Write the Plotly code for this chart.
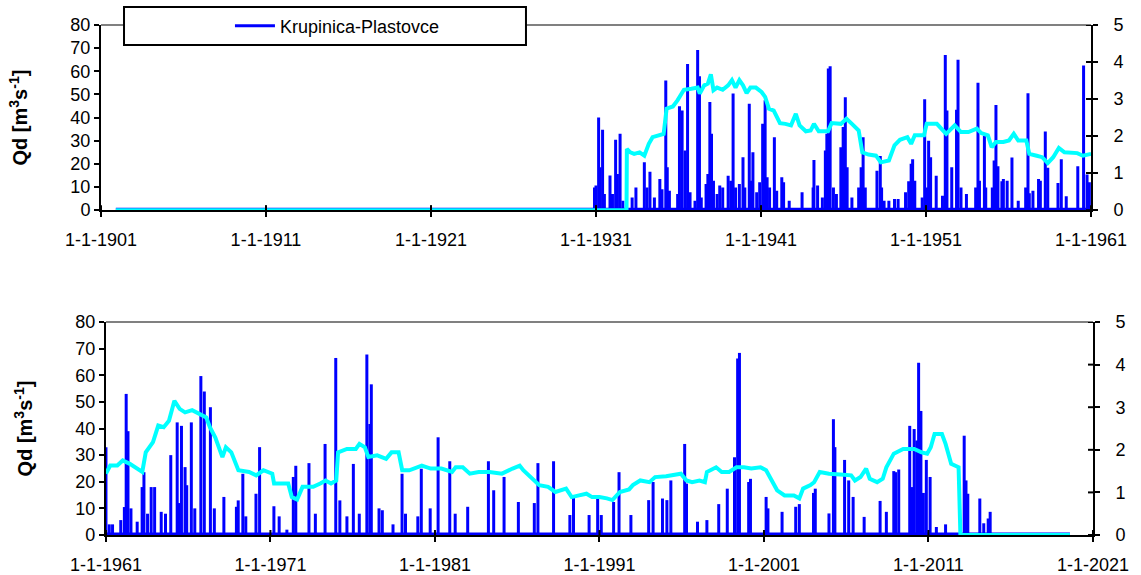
import datetime as dt
import plotly.graph_objects as go
from plotly.subplots import make_subplots

# daily discharge peaks (decimal year, m3/s)
q_top_year = [1930.91, 1931.0, 1931.16, 1931.25, 1931.4, 1931.51, 1931.85, 1932.0, 1932.19, 1932.3,
              1932.46, 1932.63, 1933.19, 1933.42, 1933.93, 1934.09, 1934.27, 1934.54, 1934.87, 1935.0,
              1935.23, 1935.32, 1935.45, 1935.95, 1936.06, 1936.22, 1936.4, 1936.55, 1936.7, 1937.0,
              1937.16, 1937.27, 1937.38, 1937.67, 1937.78, 1937.9, 1938.0, 1938.12, 1938.34, 1938.5,
              1938.68, 1939.01, 1939.17, 1939.31, 1939.46, 1939.69, 1939.91, 1940.02, 1940.29, 1940.4,
              1940.51, 1940.74, 1940.92, 1941.1, 1941.25, 1941.37, 1941.52, 1941.81, 1941.95, 1942.26,
              1942.37, 1942.71, 1943.49, 1944.16, 1944.21, 1944.43, 1944.72, 1944.9, 1944.99, 1945.08,
              1945.19, 1945.39, 1945.57, 1945.84, 1945.98, 1946.11, 1946.22, 1946.51, 1946.92, 1947.07,
              1947.19, 1947.32, 1948.03, 1948.23, 1948.31, 1948.46, 1948.75, 1949.09, 1949.31, 1949.76,
              1949.95, 1950.1, 1950.19, 1950.32, 1950.77, 1950.92, 1951.06, 1951.16, 1951.28, 1951.62,
              1952.0, 1952.17, 1952.27, 1952.56, 1952.85, 1952.94, 1953.12, 1953.45, 1954.01, 1954.15,
              1954.24, 1954.54, 1954.62, 1955.02, 1955.13, 1955.24, 1955.36, 1955.6, 1955.69, 1955.92,
              1956.21, 1956.59, 1957.04, 1957.18, 1957.26, 1957.48, 1957.82, 1957.93, 1958.23, 1958.38,
              1959.0, 1959.2, 1959.5, 1960.2, 1960.55, 1960.76, 1960.9]
q_top_val = [9.8, 10.6, 40.0, 18.5, 34.7, 7.0, 15.0, 7.0, 30.4, 15.6,
             33.0, 4.0, 5.5, 9.8, 20.7, 9.8, 16.6, 5.5, 13.5, 9.0,
             56.0, 18.5, 8.4, 7.0, 44.9, 43.1, 25.8, 63.1, 7.7, 4.0,
             69.2, 57.9, 5.5, 11.3, 15.6, 46.7, 33.0, 12.7, 7.0, 10.6,
             9.8, 14.9, 12.7, 50.4, 9.8, 11.3, 22.9, 9.8, 46.0, 12.7,
             25.0, 7.7, 12.0, 37.3, 47.5, 14.2, 9.8, 31.5, 8.4, 14.2,
             12.0, 4.0, 7.7, 9.8, 21.7, 10.6, 5.5, 25.8, 33.0, 61.2,
             62.2, 9.8, 7.0, 27.2, 35.9, 48.8, 18.5, 5.5, 9.8, 18.5,
             31.5, 9.8, 17.0, 23.4, 9.8, 4.0, 4.0, 4.8, 4.8, 7.7,
             12.5, 20.0, 22.0, 12.7, 5.5, 47.9, 9.8, 30.0, 22.9, 14.9,
             6.2, 67.0, 43.0, 18.5, 43.4, 65.0, 9.8, 7.0, 9.8, 55.0,
             12.7, 32.0, 9.8, 9.8, 21.4, 45.4, 19.0, 12.5, 13.5, 12.7,
             22.7, 4.0, 9.8, 50.5, 7.3, 8.4, 13.5, 12.7, 34.0, 18.3,
             11.7, 22.0, 6.0, 19.0, 62.5, 15.4, 12.0]

q_bot_year = [1961.0, 1961.2, 1961.4, 1961.9, 1962.12, 1962.23, 1962.34, 1962.52, 1962.9, 1963.2,
              1963.31, 1963.53, 1963.75, 1963.96, 1964.36, 1964.62, 1964.94, 1965.33, 1965.41, 1965.59,
              1965.81, 1965.91, 1966.19, 1966.4, 1966.77, 1966.98, 1967.35, 1967.59, 1968.17, 1968.93,
              1969.04, 1969.32, 1969.5, 1970.12, 1970.34, 1971.21, 1971.53, 1972.0, 1972.39, 1972.54,
              1973.34, 1973.73, 1974.32, 1974.97, 1975.22, 1975.65, 1976.04, 1976.4, 1976.86, 1977.04,
              1977.13, 1977.6, 1977.8, 1978.45, 1979.0, 1979.21, 1979.96, 1980.17, 1980.71, 1981.19,
              1981.9, 1982.23, 1982.99, 1984.25, 1984.57, 1985.2, 1986.07, 1987.04, 1987.26, 1988.21,
              1989.2, 1989.42, 1990.37, 1990.89, 1991.11, 1991.86, 1992.19, 1992.91, 1993.99, 1994.26,
              1994.83, 1995.1, 1995.34, 1996.18, 1996.29, 1996.96, 1997.53, 1998.25, 1998.77, 1999.21,
              1999.4, 1999.51, 2000.07, 2000.18, 2001.13, 2001.24, 2002.1, 2002.93, 2003.15, 2004.01,
              2004.12, 2004.95, 2005.22, 2005.31, 2005.9, 2006.15, 2006.42, 2007.09, 2008.06, 2008.44,
              2008.89, 2009.0, 2009.19, 2009.86, 2010.02, 2010.13, 2010.29, 2010.4, 2010.54, 2010.69,
              2010.87, 2011.1, 2011.48, 2012.04, 2013.17, 2013.28, 2013.39, 2014.12, 2014.36, 2014.63,
              2014.75]
q_bot_val = [33.0, 4.0, 4.0, 5.6, 10.5, 53.0, 39.0, 10.0, 5.0, 18.0,
             23.6, 8.0, 18.0, 18.0, 8.7, 8.0, 30.0, 42.3, 12.0, 41.0,
             25.5, 18.7, 42.3, 10.0, 59.7, 53.9, 48.0, 10.0, 14.3, 10.6,
             13.0, 23.0, 7.0, 15.5, 33.0, 10.8, 7.0, 2.0, 21.8, 26.0,
             27.0, 8.0, 34.2, 66.5, 13.0, 7.0, 26.7, 8.0, 67.8, 41.7,
             56.6, 10.0, 9.3, 4.0, 23.0, 8.0, 7.0, 24.9, 10.0, 36.7,
             27.7, 8.0, 10.6, 27.7, 16.8, 21.8, 12.4, 12.0, 27.0, 27.7,
             7.5, 14.3, 7.5, 13.7, 7.5, 12.4, 23.6, 7.5, 13.1, 19.9,
             13.7, 13.1, 20.5, 34.2, 19.3, 5.0, 5.6, 11.6, 17.4, 29.2,
             66.3, 68.4, 19.9, 21.1, 14.3, 10.0, 8.7, 10.6, 11.6, 15.8,
             17.4, 8.1, 43.5, 33.0, 28.2, 20.5, 14.3, 6.8, 12.8, 8.7,
             24.0, 23.6, 24.6, 41.0, 18.0, 39.8, 35.5, 64.7, 46.6, 15.8,
             28.2, 21.8, 3.0, 4.0, 37.3, 20.5, 15.5, 13.7, 4.4, 6.2,
             8.7]

# period covered by the discharge record on each panel
q_top_span = [1901.9, 1961.0]
q_bot_span = [1961.0, 2019.6]

# moving mean (right axis)
m_top_year = [1901.9, 1932.85, 1932.87, 1933.08, 1933.31, 1933.64, 1933.93, 1934.2, 1934.43, 1934.76,
              1935.1, 1935.28, 1935.66, 1935.95, 1936.1, 1936.33, 1936.78, 1937.16, 1937.29, 1937.56,
              1937.78, 1937.96, 1938.12, 1938.34, 1938.68, 1939.01, 1939.24, 1939.46, 1939.69, 1939.91,
              1940.13, 1940.36, 1940.69, 1941.03, 1941.25, 1941.48, 1941.77, 1942.15, 1942.48, 1942.82,
              1943.11, 1943.34, 1943.72, 1944.01, 1944.21, 1944.5, 1945.06, 1945.28, 1945.84, 1946.18,
              1946.51, 1946.92, 1947.14, 1947.52, 1947.97, 1948.26, 1948.75, 1949.09, 1949.42, 1949.87,
              1950.1, 1950.32, 1950.88, 1951.04, 1951.66, 1952.22, 1952.74, 1953.12, 1953.57, 1954.08,
              1954.35, 1954.75, 1954.98, 1955.24, 1955.69, 1956.03, 1956.32, 1956.59, 1957.08, 1957.26,
              1957.71, 1958.04, 1958.38, 1958.71, 1959.05, 1959.39, 1960.17, 1960.51, 1961.0]
m_top_val = [0, 0, 1.65, 1.56, 1.52, 1.56, 1.47, 1.79, 1.97, 2.02,
             2.06, 2.74, 2.8, 2.97, 3.1, 3.25, 3.28, 3.31, 3.15, 3.37,
             3.42, 3.67, 3.24, 3.31, 3.25, 3.37, 3.51, 3.31, 3.51, 3.37,
             3.16, 3.31, 3.31, 3.19, 3.06, 2.74, 2.69, 2.35, 2.33, 2.29,
             2.6, 2.29, 2.13, 2.15, 2.33, 2.13, 2.13, 2.35, 2.33, 2.47,
             2.33, 2.15, 1.56, 1.5, 1.47, 1.29, 1.34, 1.75, 1.9, 1.97,
             1.79, 2.02, 2.02, 2.33, 2.33, 2.06, 2.29, 2.11, 2.11, 2.2,
             2.08, 2.02, 1.7, 1.84, 1.84, 1.88, 2.06, 1.88, 1.88, 1.52,
             1.47, 1.43, 1.27, 1.43, 1.68, 1.56, 1.54, 1.47, 1.52]

m_bot_year = [1961.0, 1961.26, 1961.69, 1962.02, 1962.45, 1962.77, 1963.21, 1963.42, 1963.86, 1964.18,
              1964.51, 1964.83, 1965.16, 1965.48, 1965.81, 1966.24, 1966.67, 1967.1, 1967.32, 1967.65,
              1968.08, 1968.29, 1968.62, 1969.05, 1969.7, 1970.13, 1970.57, 1971.11, 1971.22, 1972.08,
              1972.3, 1972.62, 1972.95, 1973.6, 1974.03, 1974.35, 1974.68, 1975.0, 1975.11, 1975.65,
              1976.19, 1976.41, 1976.74, 1976.95, 1977.49, 1978.03, 1978.36, 1978.79, 1979.01, 1979.44,
              1980.2, 1980.74, 1981.39, 1982.04, 1982.26, 1982.69, 1983.12, 1983.66, 1984.31, 1985.07,
              1985.72, 1986.15, 1986.37, 1987.02, 1987.34, 1987.88, 1988.32, 1988.97, 1989.31, 1989.76,
              1990.21, 1990.55, 1991.0, 1991.45, 1991.79, 1992.24, 1992.8, 1993.03, 1993.48, 1994.04,
              1994.38, 1995.05, 1995.5, 1995.95, 1996.29, 1996.63, 1997.08, 1997.41, 1997.53, 1998.09,
              1998.43, 1998.88, 1999.33, 1999.78, 2000.23, 2000.79, 2001.13, 2001.47, 2001.8, 2002.25,
              2002.82, 2003.15, 2003.38, 2003.83, 2004.05, 2004.39, 2004.95, 2005.63, 2006.3, 2006.53,
              2006.87, 2007.21, 2007.43, 2007.88, 2008.22, 2008.44, 2008.89, 2009.46, 2010.13, 2010.58,
              2010.92, 2011.14, 2011.37, 2011.82, 2012.04, 2012.38, 2012.83, 2012.94, 2019.6]
m_bot_val = [1.44, 1.63, 1.63, 1.75, 1.67, 1.59, 1.48, 1.94, 2.18, 2.57,
             2.53, 2.68, 3.15, 2.96, 2.88, 2.93, 2.84, 2.76, 2.53, 2.29,
             1.83, 2.06, 1.94, 1.52, 1.48, 1.4, 1.52, 1.44, 1.21, 1.21,
             0.89, 0.83, 1.13, 1.13, 1.21, 1.28, 1.21, 1.28, 1.94, 2.02,
             2.02, 2.14, 2.06, 1.83, 1.87, 1.79, 1.94, 1.94, 1.52, 1.52,
             1.63, 1.56, 1.56, 1.48, 1.59, 1.59, 1.44, 1.48, 1.48, 1.44,
             1.56, 1.63, 1.52, 1.28, 1.17, 1.13, 1.01, 1.09, 0.89, 0.93,
             0.97, 0.89, 0.89, 0.86, 0.82, 1.01, 1.07, 1.17, 1.28, 1.24,
             1.36, 1.38, 1.4, 1.44, 1.28, 1.24, 1.28, 1.24, 1.48, 1.59,
             1.48, 1.48, 1.59, 1.59, 1.56, 1.59, 1.52, 1.28, 1.05, 0.93,
             0.93, 0.86, 1.09, 1.17, 1.24, 1.48, 1.44, 1.42, 1.4, 1.28,
             1.36, 1.56, 1.32, 1.24, 1.32, 1.59, 1.91, 2.02, 2.02, 1.94,
             1.91, 2.06, 2.37, 2.37, 2.14, 1.67, 1.59, 0, 0]

top_ticks = ["1-1-1901", "1-1-1911", "1-1-1921", "1-1-1931", "1-1-1941", "1-1-1951", "1-1-1961"]
bot_ticks = ["1-1-1961", "1-1-1971", "1-1-1981", "1-1-1991", "1-1-2001", "1-1-2011", "1-1-2021"]
station = "Krupinica-Plastovce"


def ydate(y):
    yr = int(y)
    start = dt.datetime(yr, 1, 1)
    return start + (dt.datetime(yr + 1, 1, 1) - start) * (y - yr)


def tickdate(s):
    d, m, y = s.split("-")
    return dt.datetime(int(y), int(m), int(d))


def stems(years, vals):
    xs, ys = [], []
    for y, v in zip(years, vals):
        d = ydate(y)
        xs += [d, d, None]
        ys += [0, v, None]
    return xs, ys


BLUE = "#0000FF"
CYAN = "#00FFFF"
FONT = "Arial, Liberation Sans, sans-serif"

fig = make_subplots(rows=2, cols=1, specs=[[{"secondary_y": True}], [{"secondary_y": True}]])

panels = [(1, q_top_year, q_top_val, q_top_span, m_top_year, m_top_val),
          (2, q_bot_year, q_bot_val, q_bot_span, m_bot_year, m_bot_val)]
for row, qy, qv, span, my, mv in panels:
    fig.add_trace(go.Scatter(x=[ydate(s) for s in span], y=[0, 0], mode="lines",
                             line=dict(color=BLUE, width=5), showlegend=False, hoverinfo="skip"),
                  row=row, col=1, secondary_y=False)
    sx, sy = stems(qy, qv)
    fig.add_trace(go.Scatter(x=sx, y=sy, mode="lines", name=station,
                             line=dict(color=BLUE, width=3), showlegend=(row == 1)),
                  row=row, col=1, secondary_y=False)
    fig.add_trace(go.Scatter(x=[ydate(y) for y in my], y=mv, mode="lines",
                             line=dict(color=CYAN, width=4), showlegend=False),
                  row=row, col=1, secondary_y=True)

tick_font = dict(family=FONT, size=18, color="black")
axis_common = dict(showline=True, linecolor="black", linewidth=2, showgrid=False, zeroline=False,
                   ticks="outside", ticklen=5, tickwidth=2, tickcolor="black", tickfont=tick_font,
                   automargin=False)

fig.update_xaxes(**axis_common, ticklabelstandoff=7)
fig.update_yaxes(**axis_common)

fig.update_xaxes(domain=[0, 0.998], range=[tickdate(top_ticks[0]), tickdate(top_ticks[-1])],
                 tickvals=[tickdate(t) for t in top_ticks], ticktext=top_ticks, row=1, col=1)
fig.update_xaxes(domain=[0.005, 1.0], range=[tickdate(bot_ticks[0]), tickdate(bot_ticks[-1])],
                 tickvals=[tickdate(t) for t in bot_ticks], ticktext=bot_ticks, row=2, col=1)

ytitle = dict(text="<b>Qd [m<sup>3</sup>s<sup>-1</sup>]</b>", font=dict(family=FONT, size=20, color="black"),
              standoff=37)
fig.update_layout(
    yaxis=dict(domain=[0.637, 1.0], range=[0, 80], dtick=10, title=ytitle),
    yaxis2=dict(domain=[0.637, 1.0], range=[0, 5], dtick=1, ticklabelstandoff=12),
    yaxis3=dict(domain=[0, 0.4176], range=[0, 80], dtick=10, title=ytitle),
    yaxis4=dict(domain=[0, 0.4176], range=[0, 5], dtick=1, ticklabelstandoff=12),
)

# grey frame line along the top of each panel
for xr, yr in [("x domain", "y domain"), ("x2 domain", "y3 domain")]:
    fig.add_shape(type="line", xref=xr, yref=yr, x0=0, x1=1, y0=1, y1=1,
                  line=dict(color="#808080", width=2), layer="below")

# inward halves of the crossing ticks (x axes and right axes)
for xr, yr, ticks, hpx in [("x", "y domain", top_ticks, 185), ("x2", "y3 domain", bot_ticks, 213)]:
    for t in ticks:
        fig.add_shape(type="line", xref=xr, yref=yr, x0=tickdate(t), x1=tickdate(t), y0=0, y1=5 / hpx,
                      line=dict(color="black", width=2), layer="above")
for xr, yr, hpx, wpx in [("x domain", "y2", 185, 992), ("x2 domain", "y4", 213, 989)]:
    for v in range(6):
        fig.add_shape(type="line", xref=xr, yref=yr, x0=1 - 5 / wpx, x1=1, y0=v, y1=v,
                      line=dict(color="black", width=2), layer="above")

# legend frame
fig.add_shape(type="rect", xref="paper", yref="paper", x0=0.0232, x1=0.4284, y0=0.9608, y1=1.0353,
              line=dict(color="black", width=2), fillcolor="white", layer="above")

fig.update_layout(
    width=1141, height=575,
    margin=dict(l=101, r=48, t=25, b=40, autoexpand=False),
    paper_bgcolor="white", plot_bgcolor="white",
    font=dict(family=FONT, color="black"),
    showlegend=True,
    legend=dict(x=0.130, y=0.998, xanchor="left", yanchor="middle", bgcolor="rgba(0,0,0,0)",
                font=dict(family=FONT, size=18, color="black"), itemwidth=40),
)

# drop the default page margin so the figure sits at the window's corner
fig.write_html("out.html", config={"displayModeBar": False},
               post_script="document.body.style.margin = '0';")
